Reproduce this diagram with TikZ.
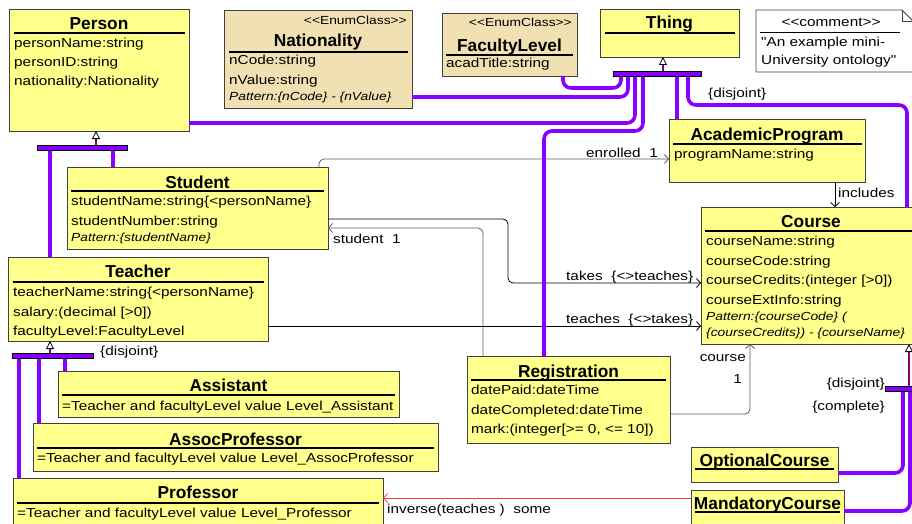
\documentclass[tikz,border=0pt]{standalone}
\usepackage{fontspec}
\setmainfont{Liberation Sans}
\newfontfamily\attrfont[FakeStretch=1.18]{Liberation Sans}
\usetikzlibrary{arrows.meta}
\definecolor{clsyellow}{RGB}{255,255,140}
\definecolor{enumtan}{RGB}{240,224,178}
\definecolor{genviolet}{RGB}{136,0,255}
\definecolor{stempurple}{RGB}{128,0,128}
\definecolor{boxline}{RGB}{64,64,64}
\definecolor{assocgray}{RGB}{90,90,90}
\definecolor{invred}{RGB}{255,60,60}
\begin{document}
\begin{tikzpicture}[x=1pt,y=-1pt,
  cls/.style={draw=boxline,line width=0.9pt,fill=clsyellow,anchor=north west,inner sep=0pt,outer sep=0pt},
  enumcls/.style={cls,fill=enumtan},
  ttl/.style={font=\bfseries\fontsize{17.3}{20}\selectfont,anchor=base,inner sep=0pt},
  attr/.style={font=\attrfont\fontsize{13}{15}\selectfont,anchor=base west,inner sep=0pt},
  small/.style={font=\attrfont\itshape\fontsize{11.7}{14}\selectfont,anchor=base west,inner sep=0pt},
  stereo/.style={font=\attrfont\fontsize{11.7}{14}\selectfont,anchor=base east,inner sep=0pt},
  sep/.style={line width=1.1pt,black},
  gen/.style={draw=genviolet,line width=3.6pt,rounded corners=8pt},
  genbar/.style={draw=black,line width=0.7pt,fill=genviolet,anchor=north west,inner sep=0pt,outer sep=0pt},
  genstem/.style={draw=stempurple,line width=2.6pt,-{Triangle[length=8pt,width=8pt,line width=0.8pt,fill=white,color=black]}},
  assoc/.style={draw=black,line width=0.8pt,rounded corners=5pt,-{Straight Barb[length=4pt,width=9pt,line width=0.8pt]}},
]
\useasboundingbox (0,0) rectangle (912,524);

% ---------- class boxes ----------
\node[cls,minimum width=180pt,minimum height=122pt] (person) at (9,9) {};
\node[enumcls,minimum width=188pt,minimum height=98pt] (nationality) at (224,10) {};
\node[enumcls,minimum width=135pt,minimum height=63pt] (faculty) at (442,13) {};
\node[cls,minimum width=139pt,minimum height=48pt] (thing) at (600,9) {};
\node[cls,minimum width=261pt,minimum height=82pt] (student) at (67,167) {};
\node[cls,minimum width=260pt,minimum height=84pt] (teacher) at (8,257) {};
\node[cls,minimum width=196pt,minimum height=63pt] (academic) at (669,119) {};
\node[cls,minimum width=220pt,minimum height=137pt] (course) at (701,207) {};
\node[cls,minimum width=203pt,minimum height=87pt] (registration) at (467,356) {};
\node[cls,minimum width=341pt,minimum height=46pt] (assistant) at (58,371) {};
\node[cls,minimum width=405pt,minimum height=48pt] (assocprof) at (33,423) {};
\node[cls,minimum width=370pt,minimum height=50pt] (professor) at (13,478) {};
\node[cls,minimum width=147pt,minimum height=35pt] (optional) at (691,447) {};
\node[cls,minimum width=153pt,minimum height=40pt] (mandatory) at (691,490) {};

% comment box
\draw[draw=boxline,fill=white,line width=0.9pt] (756,10) -- (902,10) -- (913,21) -- (913,72) -- (756,72) -- cycle;
\draw[draw=boxline,line width=0.9pt] (902,10) -- (902,21) -- (913,21);

% ---------- title separators ----------
\draw[sep] (14,33) -- (185,33);
\draw[sep] (229,52) -- (408,52);
\draw[sep] (446,55) -- (573,55);
\draw[sep] (605,33) -- (735,33);
\draw[line width=0.8pt,black] (760,32) -- (900,32);
\draw[sep] (71,191) -- (324,191);
\draw[sep] (13,282) -- (264,282);
\draw[sep] (673,144) -- (862,144);
\draw[sep] (705,231) -- (921,231);
\draw[sep] (471,380) -- (666,380);
\draw[sep] (62,395) -- (395,395);
\draw[sep] (37,448) -- (434,448);
\draw[sep] (17,503) -- (379,503);
\draw[sep] (695,469) -- (834,469);
\draw[sep] (695,512) -- (840,512);

% ---------- texts ----------
\node[ttl] (t-person) at (99,30) {Person};
\node[attr] (a-person1) at (14,48) {personName:string};
\node[attr] (a-person2) at (14,67) {personID:string};
\node[attr] (a-person3) at (14,86) {nationality:Nationality};

\node[stereo] (s-nat) at (407,25) {<{}<EnumClass>{}>};
\node[ttl] (t-nat) at (318,47) {Nationality};
\node[attr] (a-nat1) at (229,65) {nCode:string};
\node[attr] (a-nat2) at (229,85) {nValue:string};
\node[small] (p-nat) at (229,101) {Pattern:\{nCode\} - \{nValue\}};

\node[stereo] (s-fac) at (572,27) {<{}<EnumClass>{}>};
\node[ttl] (t-fac) at (509.5,52) {FacultyLevel};
\node[attr] (a-fac1) at (446,68) {acadTitle:string};

\node[ttl] (t-thing) at (669.5,29) {Thing};

\node[attr,anchor=base] (s-comment) at (831,27) {<{}<comment>{}>};
\node[attr] (c-line1) at (761,47) {"An example mini-};
\node[attr] (c-line2) at (761,65) {University ontology"};

\node[ttl] (t-student) at (197.5,188) {Student};
\node[attr] (a-st1) at (71,205) {studentName:string\{<personName\}};
\node[attr] (a-st2) at (71,225) {studentNumber:string};
\node[small] (p-st) at (71,241) {Pattern:\{studentName\}};

\node[ttl] (t-teacher) at (138,277) {Teacher};
\node[attr] (a-te1) at (13,296) {teacherName:string\{<personName\}};
\node[attr] (a-te2) at (13,316) {salary:(decimal [>0])};
\node[attr] (a-te3) at (13,335) {facultyLevel:FacultyLevel};

\node[ttl] (t-academic) at (767,140) {AcademicProgram};
\node[attr] (a-ac1) at (674,158) {programName:string};

\node[ttl] (t-course) at (811,227) {Course};
\node[attr] (a-co1) at (706,245) {courseName:string};
\node[attr] (a-co2) at (706,265) {courseCode:string};
\node[attr] (a-co3) at (706,284) {courseCredits:(integer [>0])};
\node[attr] (a-co4) at (706,304) {courseExtInfo:string};
\node[small] (p-co1) at (706,320) {Pattern:\{courseCode\} (};
\node[small] (p-co2) at (706,336) {\{courseCredits\}) - \{courseName\}};

\node[ttl] (t-reg) at (568.5,377) {Registration};
\node[attr] (a-re1) at (471,394) {datePaid:dateTime};
\node[attr] (a-re2) at (471,414) {dateCompleted:dateTime};
\node[attr] (a-re3) at (471,433) {mark:(integer[>= 0, <= 10])};

\node[ttl] (t-assistant) at (228.5,391) {Assistant};
\node[attr] (a-as1) at (62,410) {=Teacher and facultyLevel value Level\_Assistant};
\node[ttl] (t-assoc) at (235.5,445) {AssocProfessor};
\node[attr] (a-ap1) at (37,462) {=Teacher and facultyLevel value Level\_AssocProfessor};
\node[ttl] (t-prof) at (198,498) {Professor};
\node[attr] (a-pr1) at (17,517) {=Teacher and facultyLevel value Level\_Professor};

\node[ttl] (t-optional) at (764.5,466) {OptionalCourse};
\node[ttl] (t-mandatory) at (767.5,509) {MandatoryCourse};

% ---------- associations ----------
\draw[assoc,draw=assocgray] (319,0 |- student.north) -- (319,159) -- (academic.west |- 0,159);
\node[attr,anchor=base east] (l-enrolled) at (658,157) {enrolled\ \ 1};
\draw[assoc] (student.east |- 0,219) -- (508,219) -- (508,283) -- (course.west |- 0,283);
\node[attr] (l-takes) at (566,280) {takes\ \ \{<>teaches\}};
\draw[assoc,draw=assocgray] (483,0 |- registration.north) -- (483,228) -- (student.east |- 0,228);
\node[attr] (l-student) at (333,243) {student\ \ 1};
\draw[assoc] (teacher.east |- 0,326) -- (course.west |- 0,326);
\node[attr] (l-teaches) at (566,323) {teaches\ \ \{<>takes\}};
\draw[assoc,draw=assocgray] (registration.east |- 0,414) -- (750,414) -- (750,0 |- course.south);
\node[attr,anchor=base east] (l-course) at (746,361) {course};
\node[attr,anchor=base east] (l-course1) at (742,383) {1};
\draw[assoc] (835,0 |- academic.south) -- (835,0 |- course.north);
\node[attr] (l-includes) at (838,197) {includes};
\draw[assoc,draw=invred] (mandatory.west |- 0,498) -- (professor.east |- 0,498);
\node[attr] (l-inverse) at (387,513) {inverse(teaches )\ \ some};

% ---------- generalization lines ----------
\draw[gen] (50,0 |- person.south) ++(0,19) -- (50,0 |- teacher.north);
\draw[gen] (113,150) -- (113,0 |- student.north);
\draw[gen] (19,358) -- (19,0 |- professor.north);
\draw[gen] (39,358) -- (39,0 |- assocprof.north);
\draw[gen] (65,358) -- (65,0 |- assistant.north);
\draw[gen] (person.east |- 0,123) -- (635,123) -- (635,76);
\draw[gen] (nationality.east |- 0,97) -- (628,97) -- (628,76);
\draw[gen] (563,0 |- faculty.south) -- (563,88) -- (621,88) -- (621,76);
\draw[gen] (544,0 |- registration.north) -- (544,131) -- (643,131) -- (643,76);
\draw[gen] (677,0 |- academic.north) -- (677,76);
\draw[gen] (907,0 |- course.north) -- (907,105) -- (688,105) -- (688,76);
\draw[gen] (903,391) -- (903,473) -- (optional.east |- 0,473);
\draw[gen] (910,391) -- (910,511) -- (mandatory.east |- 0,511);

% ---------- generalization bars ----------
\node[genbar,minimum width=90pt,minimum height=5pt] (personbar) at (37,145) {};
\node[genbar,minimum width=81pt,minimum height=5pt] (teacherbar) at (12,353) {};
\node[genbar,minimum width=88pt,minimum height=5pt] (thingbar) at (613,71) {};
\node[genbar,minimum width=40pt,minimum height=5pt] (coursebar) at (885,386) {};

\node[attr] (l-disj-thing) at (708,98) {\{disjoint\}};
\node[attr] (l-disj-teacher) at (100,355) {\{disjoint\}};
\node[attr,anchor=base east] (l-disj-course) at (885,387) {\{disjoint\}};
\node[attr,anchor=base east] (l-compl-course) at (885,410) {\{complete\}};

% ---------- stems with hollow triangles ----------
\draw[genstem] (96,0 |- personbar.north) -- (96,0 |- person.south);
\draw[genstem] (50,0 |- teacherbar.north) -- (50,0 |- teacher.south);
\draw[genstem] (663,0 |- thingbar.north) -- (663,0 |- thing.south);
\draw[genstem] (909,0 |- coursebar.north) -- (909,0 |- course.south);
\end{tikzpicture}
\end{document}
